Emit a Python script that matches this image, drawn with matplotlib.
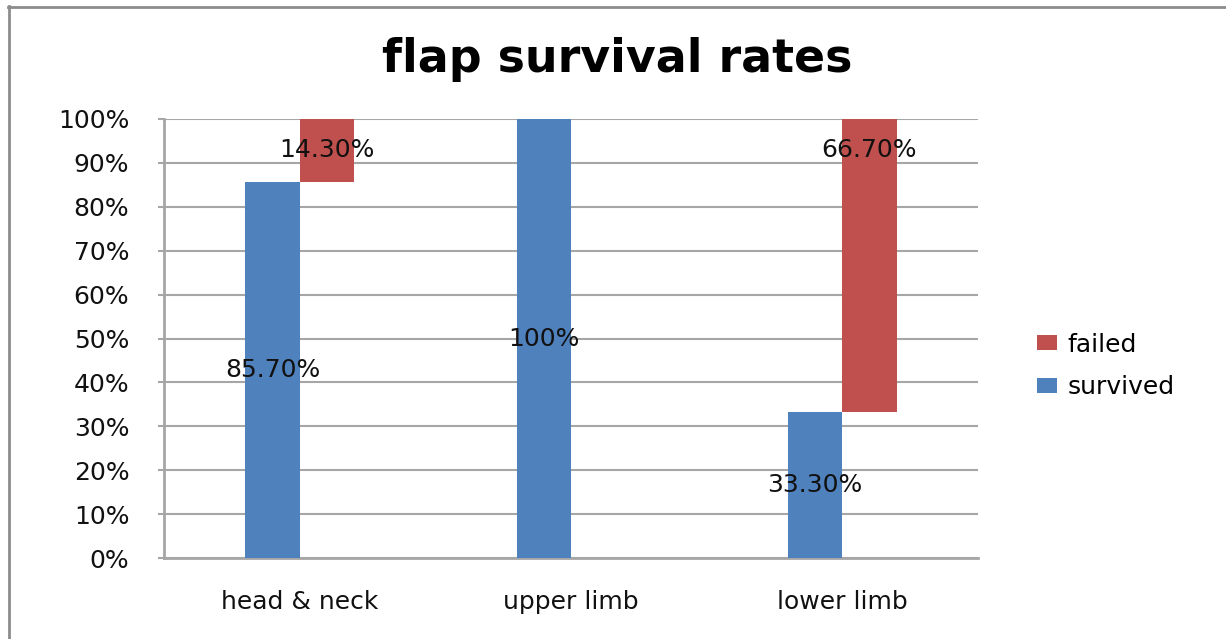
import matplotlib
matplotlib.use("Agg")
import matplotlib.pyplot as plt
from matplotlib.lines import Line2D
from matplotlib.patches import Patch
import numpy as np

categories = ["head & neck", "upper limb", "lower limb"]
survived = [85.7, 100.0, 33.3]
failed = [14.3, 0.0, 66.7]
survived_labels = ["85.70%", "100%", "33.30%"]
failed_labels = ["14.30%", "", "66.70%"]
yticks = [0, 10, 20, 30, 40, 50, 60, 70, 80, 90, 100]

BLUE = "#4F81BD"
RED = "#C0504D"
GRID = "#A6A6A6"
FONT = "DejaVu Sans"
FS = 18

W, H = 1226, 639
fig = plt.figure(figsize=(W / 100, H / 100), dpi=100)
fig.patch.set_facecolor("white")

# outer chart frame (top and left edges)
fig.add_artist(Line2D([8 / W, 1.0], [1 - 6.5 / H, 1 - 6.5 / H],
                      transform=fig.transFigure, color="#8C8C8C", lw=2))
fig.add_artist(Line2D([8.5 / W, 8.5 / W], [0.0, 1 - 6 / H],
                      transform=fig.transFigure, color="#8C8C8C", lw=2))

ax = fig.add_axes([164 / W, 1 - 558 / H, (978 - 164) / W, (558 - 119) / H])

x = np.arange(len(categories))
bw = 0.2
ax.bar(x - bw / 2, survived, width=bw, color=BLUE, zorder=3, label="survived")
ax.bar(x + bw / 2, failed, width=bw, bottom=survived, color=RED, zorder=3,
       label="failed")

ax.set_xlim(-0.5, len(categories) - 0.5)
ax.set_ylim(0, 100)
ax.set_yticks(yticks)
ax.set_yticklabels([f"{v}%" for v in yticks], fontsize=FS, family=FONT,
                   color="#111111")
ax.set_xticks(x)
ax.set_xticklabels(categories, fontsize=FS, family=FONT, color="#111111")
ax.tick_params(axis="x", length=0, pad=23)
ax.tick_params(axis="y", length=4, width=1.5, color=GRID, pad=21)

ax.yaxis.grid(True, color=GRID, lw=1.5, zorder=0)
ax.set_axisbelow(True)
for side in ("top", "right"):
    ax.spines[side].set_visible(False)
for side in ("left", "bottom"):
    ax.spines[side].set_color(GRID)
    ax.spines[side].set_linewidth(2)

# value labels
for i in range(len(categories)):
    ax.text(x[i] - bw / 2, survived[i] / 2, survived_labels[i], ha="center",
            va="center", fontsize=FS, family=FONT, color="#111111", zorder=4)
failed_y = [survived[0] + failed[0] / 2, None, 93.0]
for i in range(len(categories)):
    if failed_labels[i]:
        ax.text(x[i] + bw / 2, failed_y[i], failed_labels[i], ha="center",
                va="center", fontsize=FS, family=FONT, color="#111111",
                zorder=4)

fig.text(617 / W, 1 - 59 / H, "flap survival rates", ha="center",
         va="center", fontsize=33, fontweight="bold", family=FONT,
         color="black")

handles = [Patch(facecolor=RED), Patch(facecolor=BLUE)]
fig.legend(handles, ["failed", "survived"], loc="center left",
           bbox_to_anchor=(1014 / W, 1 - 366 / H), frameon=False,
           prop={"family": FONT, "size": FS},
           handlelength=0.8, handleheight=0.55, handletextpad=0.45,
           labelspacing=0.75)

fig.savefig("out.png", dpi=100, facecolor="white")
